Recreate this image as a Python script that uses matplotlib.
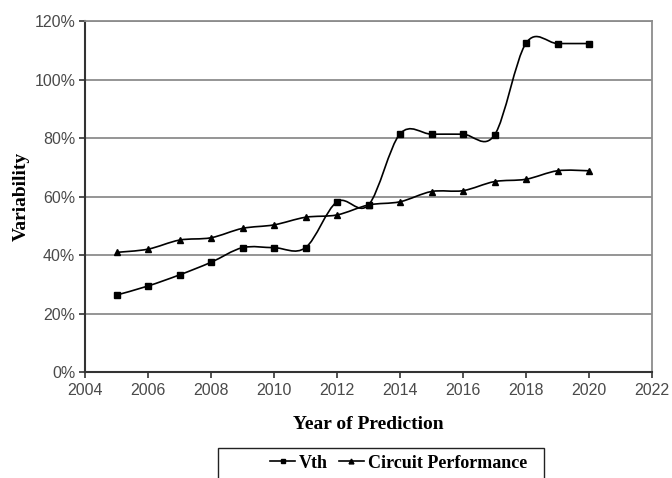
import matplotlib.pyplot as plt
import numpy as np
from matplotlib.path import Path
from matplotlib.patches import PathPatch, Rectangle
from matplotlib.ticker import FuncFormatter

years = [2005, 2006, 2007, 2008, 2009, 2010, 2011, 2012,
         2013, 2014, 2015, 2016, 2017, 2018, 2019, 2020]
vth = [26.3, 29.4, 33.2, 37.5, 42.5, 42.5, 42.5, 58.2,
       57.1, 81.4, 81.3, 81.3, 81.0, 112.4, 112.3, 112.3]
circuit = [40.9, 42.0, 45.1, 45.9, 49.1, 50.3, 52.9, 53.7,
           57.1, 58.2, 61.7, 62.0, 65.1, 65.9, 68.8, 68.8]
x_ticks = list(range(2004, 2023, 2))
y_ticks = list(range(0, 121, 20))


def smooth_path(x, y):
    # Excel-style smoothed line: cubic bezier through the points
    p = np.column_stack([x, y]).astype(float)
    pp = np.vstack([p[0], p, p[-1]])
    verts = [p[0]]
    codes = [Path.MOVETO]
    for i in range(len(p) - 1):
        c1 = pp[i + 1] + (pp[i + 2] - pp[i]) / 6
        c2 = pp[i + 2] - (pp[i + 3] - pp[i + 1]) / 6
        verts += [c1, c2, pp[i + 2]]
        codes += [Path.CURVE4] * 3
    return Path(verts, codes)


fig = plt.figure(figsize=(6.72, 4.78), dpi=100)
ax = fig.add_axes([85 / 672, 1 - 372 / 478, 567 / 672, 351 / 478])

ax.add_patch(PathPatch(smooth_path(years, vth), fill=False, color='black', lw=1.2, zorder=3))
ax.add_patch(PathPatch(smooth_path(years, circuit), fill=False, color='black', lw=1.2, zorder=3))
ax.plot(years, vth, ls='none', marker='s', ms=4.3, color='black', zorder=4)
ax.plot(years, circuit, ls='none', marker='^', ms=4.8, color='black', zorder=4)

ax.set_xlim(2004, 2022)
ax.set_ylim(0, 120)
ax.set_xticks(x_ticks)
ax.set_yticks(y_ticks)
ax.yaxis.set_major_formatter(FuncFormatter(lambda v, pos: f"{v:.0f}%"))
ax.yaxis.grid(True, color='#8c8c8c', lw=1.3)
ax.set_axisbelow(True)

for lab in ax.get_xticklabels() + ax.get_yticklabels():
    lab.set_fontfamily('Liberation Sans')
    lab.set_fontsize(11.5)
    lab.set_color('#4a4a4a')
ax.tick_params(axis='both', direction='out', length=4, width=1.2, color='#333333')
ax.tick_params(axis='x', pad=4)
ax.tick_params(axis='y', pad=3)

for s in ['left', 'bottom']:
    ax.spines[s].set_color('#333333')
    ax.spines[s].set_linewidth(1.5)
for s in ['top', 'right']:
    ax.spines[s].set_color('#8c8c8c')
    ax.spines[s].set_linewidth(1.3)

serif = {'family': 'Liberation Serif', 'weight': 'bold', 'size': 14}
ax.set_xlabel('Year of Prediction', fontdict=serif, labelpad=13)
ax.set_ylabel('Variability', fontdict=serif, labelpad=3)

# legend box (cut off at the bottom like the original)
fig.patches.append(Rectangle((218 / 672, -0.05), 326 / 672, 0.05 + 30 / 478,
                             transform=fig.transFigure, fill=False,
                             edgecolor='#222222', lw=1.0))
h1, = ax.plot([], [], color='black', lw=1.2, marker='s', ms=3)
h2, = ax.plot([], [], color='black', lw=1.2, marker='^', ms=3.5)
fig.legend([h1, h2], ['Vth', 'Circuit Performance'], loc='center left',
           bbox_to_anchor=(270 / 672, 1 - 463 / 478), ncol=2, frameon=False,
           handlelength=1.4, handletextpad=0.2, columnspacing=0.6,
           borderpad=0, borderaxespad=0,
           prop={'family': 'Liberation Serif', 'weight': 'bold', 'size': 13})

fig.savefig('out.png', dpi=100)
